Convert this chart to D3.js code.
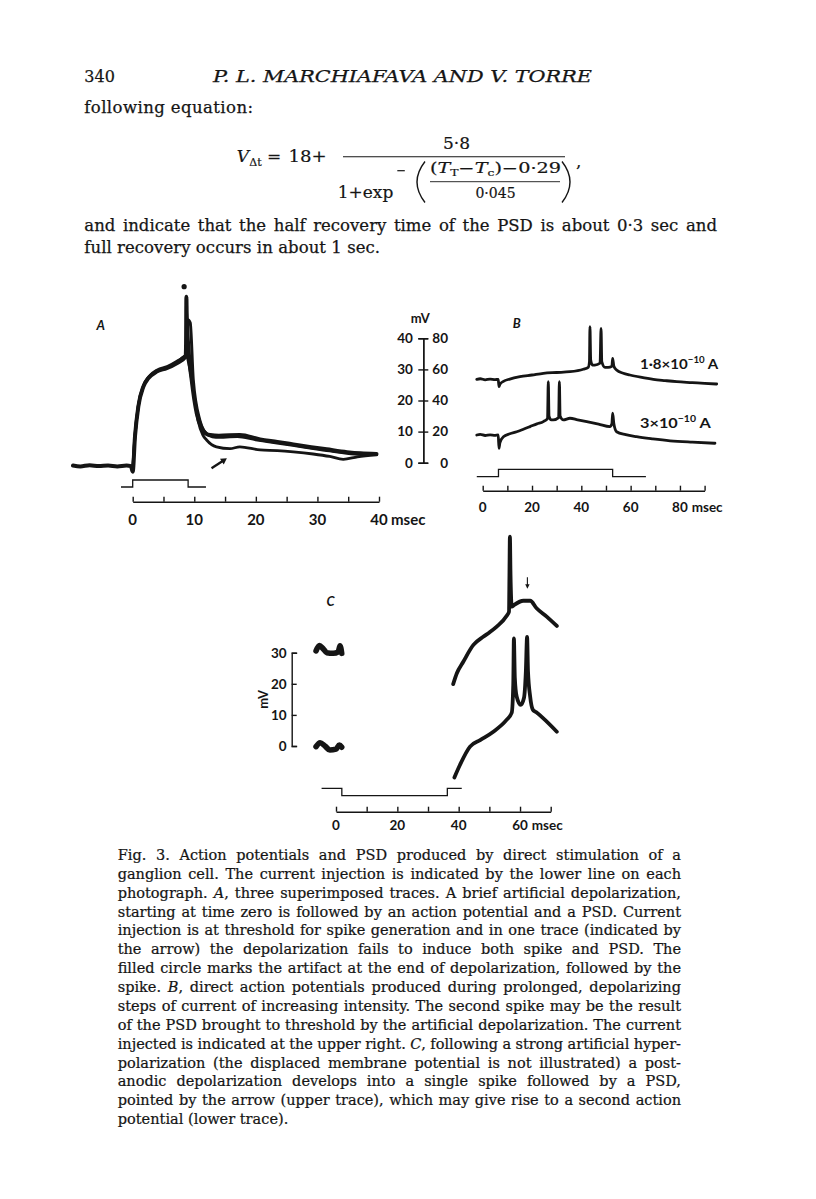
<!DOCTYPE html>
<html><head><meta charset="utf-8">
<script src="https://cdn.jsdelivr.net/npm/d3@7/dist/d3.min.js"></script>
<style>
html,body{margin:0;padding:0;background:#fff;}
svg{display:block;}
</style></head><body>
<svg id="page" width="816" height="1199" xmlns="http://www.w3.org/2000/svg"></svg>
<script>
const SERIF='"DejaVu Serif","Liberation Serif",serif';
const SANS='Lato,"Open Sans","DejaVu Sans",sans-serif';
const INK='#151515';

// ================= DATA =================
const pageNumber = "340";
const runningHead = "P. L. MARCHIAFAVA AND V. TORRE";
const introLine = "following equation:";
const bodyLines = [
  "and indicate that the half recovery time of the PSD is about 0·3 sec and",
  "full recovery occurs in about 1 sec."
];
const captionLines = [
  "Fig. 3. Action potentials and PSD produced by direct stimulation of a",
  "ganglion cell. The current injection is indicated by the lower line on each",
  "photograph. *A*, three superimposed traces. A brief artificial depolarization,",
  "starting at time zero is followed by an action potential and a PSD. Current",
  "injection is at threshold for spike generation and in one trace (indicated by",
  "the arrow) the depolarization fails to induce both spike and PSD. The",
  "filled circle marks the artifact at the end of depolarization, followed by the",
  "spike. *B*, direct action potentials produced during prolonged, depolarizing",
  "steps of current of increasing intensity. The second spike may be the result",
  "of the PSD brought to threshold by the artificial depolarization. The current",
  "injected is indicated at the upper right. *C*, following a strong artificial hyper-",
  "polarization (the displaced membrane potential is not illustrated) a post-",
  "anodic depolarization develops into a single spike followed by a PSD,",
  "pointed by the arrow (upper trace), which may give rise to a second action",
  "potential (lower trace)."
];

// time axes (msec)
const timeTicksA  = [0,5,10,15,20,25,30,35,40];
const timeLabelsA = [0,10,20,30,40];
const timeTicksB  = [0,10,20,30,40,50,60,70,80,90];
const timeLabelsB = [0,20,40,60,80];
const timeTicksC  = [0,10,20,30,40,50,60,70];
const timeLabelsC = [0,20,40,60];
// voltage calibration (mV)
const mvTicksLeft  = [0,10,20,30,40];
const mvTicksRight = [0,20,40,60,80];
const mvTicksC     = [0,10,20,30];
// current labels for B
const currentMantissas = ["1·8×10","3×10"];
const currentExponent  = "−10";

// ---- Panel A traces [msec, mV] ----
const traceA1 = [[-9.7,-0.9],[-8.5,-1.2],[-7,-0.8],[-5.5,-1.1],[-4,-0.9],[-2.5,-1.2],[-1,-0.9],[-0.3,-1.1],
  [0,-2.9],[0.37,8.4],[0.91,18.0],[1.72,24.4],[2.53,27.1],[3.9,29.3],[5.52,30.4],[7.15,32.0],[8.6,34.1],
  [8.66,37.3],[8.72,53.4],[8.77,48],[9.03,37.3],[9.58,26.6],[10.4,15.9],[11.2,11.1],[12,9.2],[12.6,8.9],
  [14,8.7],[17.4,8.9],[20.7,7.5],[23.5,6.7],[26.1,5.9],[29,5.0],[31.5,4.3],[34.8,3.4],[37,3.0],[39.6,2.8]];
const traceA2 = [[0,-2.5],[0.4,9.5],[0.95,18.8],[1.8,25],[2.6,27.6],[4,29.8],[5.6,30.9],[7.2,32.6],[8.7,34.8],
  [8.85,40],[8.95,46],[9.34,45],[9.84,26.6],[10.9,13.7],[11.5,10.5],[12.4,8.8],[13.5,8.2],[17,8.4],
  [20,7.4],[24,6.2],[28,5.0],[32,3.8],[36,2.8],[39.6,2.6]];
const traceA3 = [[0,-2.7],[0.38,8.8],[0.93,18.4],[1.75,24.6],[2.55,27.3],[3.95,29.5],[5.55,30.6],[7.2,32.3],
  [8.7,34.4],[9.3,29.8],[9.95,21.8],[10.6,13.7],[11.4,8.9],[12,7.3],[13.6,5.1],[15.8,4.5],[17.4,5.1],
  [20.7,4.1],[23.5,3.9],[26.1,3.5],[29.3,2.8],[32,2.0],[34.2,1.1],[36.5,1.9],[39.6,2.5]];
const artifactA = [8.35, 56.6];
const arrowA = [[12.8,-1.8],[15.3,1.4]];
const stepA = [[-1.9,0],[0,0],[0,1],[9,1],[9,0],[11.9,0]];

// ---- Panel B traces [msec, mV] ----
const traceB1 = [[-2.4,53.6],[-1,54],[1,53.3],[3,53.8],[5,53.4],[6.3,53.6],[6.6,48.9],[7.0,50.5],[8.4,52.3],
  [11,53.8],[15.1,55.3],[20,56.4],[24.6,57.5],[30,58],[35.4,58.5],[40.8,60.1],[42.8,61.3],[43.3,65],
  [43.5,87.5],[43.8,66],[44.5,62.8],[45.5,62.8],[47.6,64],[48.0,86.4],[48.3,65],[49.6,61.3],[50.9,61.3],
  [52.4,62],[52.7,67.1],[53.2,62],[54.3,59.6],[57,57.5],[59.7,56.4],[64,55],[69.2,53.6],[74,52.8],
  [78.7,52.1],[85,51.5],[90,51],[94.9,50.6]];
const traceB2 = [[-2.4,17.8],[-1,18.2],[1,17.5],[3,17.9],[5,17.6],[6.3,17.8],[6.6,9.3],[7.0,13],[8.4,16.7],
  [11,18.6],[13.8,19.9],[16.5,21.5],[19.2,23.2],[22,25],[24.6,26.4],[26.3,28.5],[26.6,52.1],[26.9,30],
  [27.8,27.5],[28.6,27.5],[30.8,29],[31.1,52.1],[31.4,30],[32.7,27.5],[35.4,28.6],[38.5,27.6],[42.2,26.4],
  [47,24.8],[51.6,23.2],[52.4,25],[52.7,31.8],[53.2,25],[54.3,19.9],[58,18],[62.4,16.7],[69,15.3],
  [76,14.1],[85,13.2],[94.2,12.5]];
const stepB = [[-2.4,0],[6.4,0],[6.4,1],[52.7,1],[52.7,0],[66.2,0]];

// ---- Panel C traces [msec, mV] ----
const traceCUpperPre = [[-6.5,30.6],[-5.4,32.3],[-4.3,31.4],[-3.0,30.0],[-0.9,29.8],[0.75,30.3],[1.3,32.2],[1.86,29.8]];
const traceCLowerPre = [[-6.5,-0.2],[-5.2,1.06],[-3.6,0],[-2.0,-1.3],[0,-1.0],[1.1,0.3],[1.86,-0.4]];
const traceCUpper = [[38.2,19.9],[39.4,23.4],[41.5,27.1],[44.8,32.5],[48,35.1],[50,36.5],[52.4,38.4],[55.6,41.8],
  [56.4,43.2],[56.55,55],[56.7,67.3],[56.9,55],[57.3,44.8],[58,45.3],[61.1,46.7],[63.3,46.7],[65.4,44.3],
  [68.7,41.6],[72,38.6]];
const traceCLower = [[38.6,-10.1],[40.4,-6.1],[43.7,-0.2],[47,1.9],[51.3,4.6],[55.6,8.4],[57.3,10.7],[57.8,20],
  [58.0,34.6],[58.3,22],[58.9,15.9],[60.2,13.2],[61.3,15.5],[61.9,24],[62.3,35.1],[62.6,24],[63.3,15.9],
  [64.2,11.6],[65.2,10.9],[67.6,8.9],[72,4.6]];
const arrowC = [[62.4,54.3],[62.4,50.6]];
const stepC = [[-4.7,0],[1.9,0],[1.9,-1],[36.3,-1],[36.3,0],[41,0]];

// ================= DRAWING =================
const svg = d3.select('#page');
svg.append('rect').attr('width',816).attr('height',1199).attr('fill','#fff');

function fitLine(sel, x1, x2, justify){
  const node = sel.node();
  const w = node.getComputedTextLength();
  const target = x2 - x1;
  if(justify){
    const n = (node.textContent.match(/ /g)||[]).length;
    const ws = (target - w)/Math.max(n,1);
    if(ws < -1.5) sel.attr('textLength',target).attr('lengthAdjust','spacingAndGlyphs');
    else sel.style('word-spacing', ws+'px');
  } else if(target){
    sel.attr('textLength',target).attr('lengthAdjust', Math.abs(w-target)/target>0.06 ? 'spacingAndGlyphs':'spacing');
  }
}
function richLine(g, str, x, y, size){
  const t = g.append('text').attr('x',x).attr('y',y).attr('font-size',size);
  str.split('*').forEach((seg,i)=>{ if(seg.length) t.append('tspan').attr('font-style', i%2 ? 'italic':'normal').text(seg); });
  return t;
}

// ---- header & body text ----
const txt = svg.append('g').attr('font-family',SERIF).attr('fill',INK).attr('stroke',INK).attr('stroke-width',0.25);
txt.append('text').attr('x',84.3).attr('y',81.7).attr('font-size',16).text(pageNumber);
fitLine(txt.append('text').attr('x',213).attr('y',81.7).attr('font-size',16).attr('font-style','italic').text(runningHead),213,592,false);
fitLine(txt.append('text').attr('x',84.3).attr('y',113).attr('font-size',16.5).text(introLine),84.3,253,false);
fitLine(richLine(txt, bodyLines[0], 84.3, 230.8, 16.5), 84.3, 717, true);
fitLine(richLine(txt, bodyLines[1], 84.3, 252.6, 16.5), 84.3, 380, false);

// ---- equation ----
const eq = svg.append('g').attr('font-family',SERIF).attr('fill',INK).attr('stroke',INK).attr('stroke-width',0.2);
eq.append('text').attr('x',236.7).attr('y',161.7).attr('font-size',17).attr('font-style','italic').text('V');
eq.append('text').attr('x',249.3).attr('y',166.2).attr('font-size',11).text('Δt');
eq.append('text').attr('x',267).attr('y',161.7).attr('font-size',17).text('=');
fitLine(eq.append('text').attr('x',288.5).attr('y',161.7).attr('font-size',17).text('18+'),288.5,326.7,false);
eq.append('line').attr('x1',343).attr('x2',565).attr('y1',156.7).attr('y2',156.7).attr('stroke-width',1.1);
eq.append('text').attr('x',456.5).attr('y',149).attr('font-size',17).attr('text-anchor','middle').text('5·8');
fitLine(eq.append('text').attr('x',337.7).attr('y',198.3).attr('font-size',17).text('1+exp'),337.7,393.3,false);
eq.append('line').attr('x1',397.3).attr('x2',404.8).attr('y1',170.7).attr('y2',170.7).attr('stroke-width',1.2);
eq.append('path').attr('d','M425,161.5 Q409,182 425,202.5').attr('fill','none').attr('stroke-width',1.4);
eq.append('path').attr('d','M562,161.5 Q578,182 562,202.5').attr('fill','none').attr('stroke-width',1.4);
const num = eq.append('text').attr('x',430).attr('y',173.3).attr('font-size',14);
num.append('tspan').text('(');
num.append('tspan').attr('font-style','italic').text('T');
num.append('tspan').attr('font-size',9).attr('dy',3).text('T');
num.append('tspan').attr('dy',-3).text('−');
num.append('tspan').attr('font-style','italic').text('T');
num.append('tspan').attr('font-size',9).attr('dy',3).text('c');
num.append('tspan').attr('dy',-3).text(')−0·29');
fitLine(num,430,561,false);
eq.append('line').attr('x1',430).attr('x2',560).attr('y1',181.7).attr('y2',181.7).attr('stroke-width',0.9);
eq.append('text').attr('x',495.5).attr('y',198.3).attr('font-size',14).attr('text-anchor','middle').text('0·045');
eq.append('text').attr('x',576).attr('y',167).attr('font-size',17).text(',');

// ---- caption ----
const cap = svg.append('g').attr('font-family',SERIF).attr('fill',INK).attr('stroke',INK).attr('stroke-width',0.22);
captionLines.forEach((s,i)=>{
  const t = richLine(cap, s, 117.7, 860 + i*18.87, 14.5);
  if(i < captionLines.length-1) fitLine(t, 117.7, 681, true);
  else fitLine(t, 117.7, 288.3, false);
});

// ---- shared helpers for panels ----
const lineGen = (x,y)=> d3.line().x(d=>x(d[0])).y(d=>y(d[1])).curve(d3.curveMonotoneX);
const stepGen = (x,y)=> d3.line().x(d=>x(d[0])).y(d=>y(d[1])).curve(d3.curveLinear);
function trace(g, data, x, y, w){
  g.append('path').datum(data).attr('d', lineGen(x,y)).attr('fill','none').attr('stroke',INK)
    .attr('stroke-width',w).attr('stroke-linejoin','round').attr('stroke-linecap','round');
}
function step(g, data, x, y){
  g.append('path').datum(data).attr('d', stepGen(x,y)).attr('fill','none').attr('stroke',INK).attr('stroke-width',1.3);
}
function timeAxis(g, x, ticks, labels, yPos, labelDy, size, unitDx){
  const a = g.append('g').attr('transform',`translate(0,${yPos})`)
    .call(d3.axisBottom(x).tickValues(ticks).tickSize(-5).tickSizeOuter(0).tickFormat(''));
  a.selectAll('path,line').attr('stroke',INK).attr('stroke-width',1.4);
  const lab = g.append('g').attr('font-family',SANS).attr('font-weight',700).attr('font-size',size).attr('fill',INK);
  lab.selectAll('text').data(labels).join('text')
    .attr('x',d=>x(d)).attr('y',yPos+labelDy).attr('text-anchor','middle').text(d=>d);
  lab.append('text').attr('x',x(labels[labels.length-1])+unitDx).attr('y',yPos+labelDy).text('msec');
}
function arrow(g, p0, p1, w, hl, hw){
  const dx=p1[0]-p0[0], dy=p1[1]-p0[1], L=Math.hypot(dx,dy), ux=dx/L, uy=dy/L;
  const bx=p1[0]-ux*hl, by=p1[1]-uy*hl;
  g.append('line').attr('x1',p0[0]).attr('y1',p0[1]).attr('x2',bx+ux*1).attr('y2',by+uy*1)
    .attr('stroke',INK).attr('stroke-width',w);
  g.append('path').attr('d',`M${p1[0]},${p1[1]}L${bx-uy*hw},${by+ux*hw}L${bx+uy*hw},${by-ux*hw}Z`).attr('fill',INK);
}

// ---- scales ----
const xA = d3.scaleLinear().domain([0,40]).range([132.7,379]);
const xB = d3.scaleLinear().domain([0,90]).range([482.7,704.6]);
const xC = d3.scaleLinear().domain([0,70]).range([336,550.7]);
const yL = d3.scaleLinear().domain([0,40]).range([462.7,338.3]);
const yR = d3.scaleLinear().domain([0,80]).range([462.7,338.3]);
const yC = d3.scaleLinear().domain([0,30]).range([746,652.7]);
const sA = d3.scaleLinear().domain([0,1]).range([487,480]);
const sB = d3.scaleLinear().domain([0,1]).range([476.7,469.3]);
const sC = d3.scaleLinear().domain([-1,0]).range([795.7,788.3]);

// ---- Panel A ----
const gA = svg.append('g');
gA.append('text').attr('x',96.5).attr('y',330).attr('font-family',SANS).attr('font-weight',700)
  .attr('font-style','italic').attr('font-size',13).attr('fill',INK).text('A');
trace(gA, traceA3, xA, yL, 2.8);
trace(gA, traceA2, xA, yL, 3.0);
trace(gA, traceA1, xA, yL, 4.0);
gA.append('circle').attr('cx',xA(artifactA[0])).attr('cy',yL(artifactA[1])).attr('r',2.6).attr('fill',INK);
arrow(gA, [xA(arrowA[0][0]),yL(arrowA[0][1])], [xA(arrowA[1][0]),yL(arrowA[1][1])], 2.4, 6, 3.4);
step(gA, stepA, xA, sA);
timeAxis(gA, xA, timeTicksA, timeLabelsA, 501.7, 23.3, 15, 12);

// ---- voltage calibration between A and B ----
const cal = svg.append('g').attr('transform','translate(423.3,0)');
const axL = cal.append('g').call(d3.axisLeft(yL).tickValues(mvTicksLeft).tickSize(5).tickSizeOuter(5).tickPadding(5.5));
const axR = cal.append('g').call(d3.axisRight(yR).tickValues(mvTicksRight).tickSize(5).tickSizeOuter(5).tickPadding(5));
axR.selectAll('text').attr('text-anchor','end').attr('x',24.7);
[axL,axR].forEach(a=>{
  a.attr('font-family',SANS).attr('font-size',13.5).attr('font-weight',700);
  a.selectAll('path,line').attr('stroke',INK).attr('stroke-width',1.4);
  a.selectAll('text').attr('fill',INK);
});
cal.append('text').attr('x',-3).attr('y',323.3).attr('text-anchor','middle').attr('font-family',SANS)
  .attr('font-weight',700).attr('font-size',13).attr('fill',INK).text('mV');

// ---- Panel B ----
const gB = svg.append('g');
gB.append('text').attr('x',512.7).attr('y',328.3).attr('font-family',SANS).attr('font-weight',700)
  .attr('font-style','italic').attr('font-size',13).attr('fill',INK).text('B');
trace(gB, traceB1, xB, yR, 2.8);
trace(gB, traceB2, xB, yR, 2.8);
step(gB, stepB, xB, sB);
timeAxis(gB, xB, timeTicksB, timeLabelsB, 490.7, 21, 13.5, 11.7);
const curLab = gB.append('g').attr('font-family',SANS).attr('font-weight',700).attr('fill',INK);
[[60, 718.3],[22.1, 710.7]].forEach((p,i)=>{
  const t = curLab.append('text').attr('x',xB(63.8)).attr('y',yR(p[0])).attr('font-size',14);
  t.append('tspan').text(currentMantissas[i]);
  t.append('tspan').attr('font-size',9).attr('dy',-6).text(currentExponent);
  t.append('tspan').attr('dy',6).text(' A');
  fitLine(t, xB(63.8), p[1], false);
});

// ---- Panel C ----
const gC = svg.append('g');
gC.append('text').attr('x',326.5).attr('y',606).attr('font-family',SANS).attr('font-weight',700)
  .attr('font-style','italic').attr('font-size',13).attr('fill',INK).text('C');
trace(gC, traceCUpperPre, xC, yC, 5.6);
trace(gC, traceCLowerPre, xC, yC, 5.6);
trace(gC, traceCUpper, xC, yC, 3.8);
trace(gC, traceCLower, xC, yC, 3.8);
arrow(gC, [xC(arrowC[0][0]),yC(arrowC[0][1])], [xC(arrowC[1][0]),yC(arrowC[1][1])], 1.1, 4.5, 2.2);
step(gC, stepC, xC, sC);
timeAxis(gC, xC, timeTicksC, timeLabelsC, 811.7, 18.3, 13.5, 11.7);
const calC = gC.append('g').attr('transform','translate(291.7,0)');
const cR = calC.append('g').call(d3.axisRight(yC).tickValues(mvTicksC).tickSize(5).tickSizeOuter(5.5).tickFormat(''));
const cL = calC.append('g').call(d3.axisLeft(yC).tickValues(mvTicksC).tickSize(0).tickSizeOuter(0).tickPadding(5));
cL.select('.domain').remove();
cR.selectAll('path,line').attr('stroke',INK).attr('stroke-width',1.4);
cL.attr('font-family',SANS).attr('font-size',13.5).attr('font-weight',700);
cL.selectAll('text').attr('fill',INK);
gC.append('text').attr('transform',`translate(268,${yC(15)}) rotate(-90)`).attr('text-anchor','middle')
  .attr('font-family',SANS).attr('font-weight',700).attr('font-size',13).attr('fill',INK).text('mV');
</script>
</body></html>
